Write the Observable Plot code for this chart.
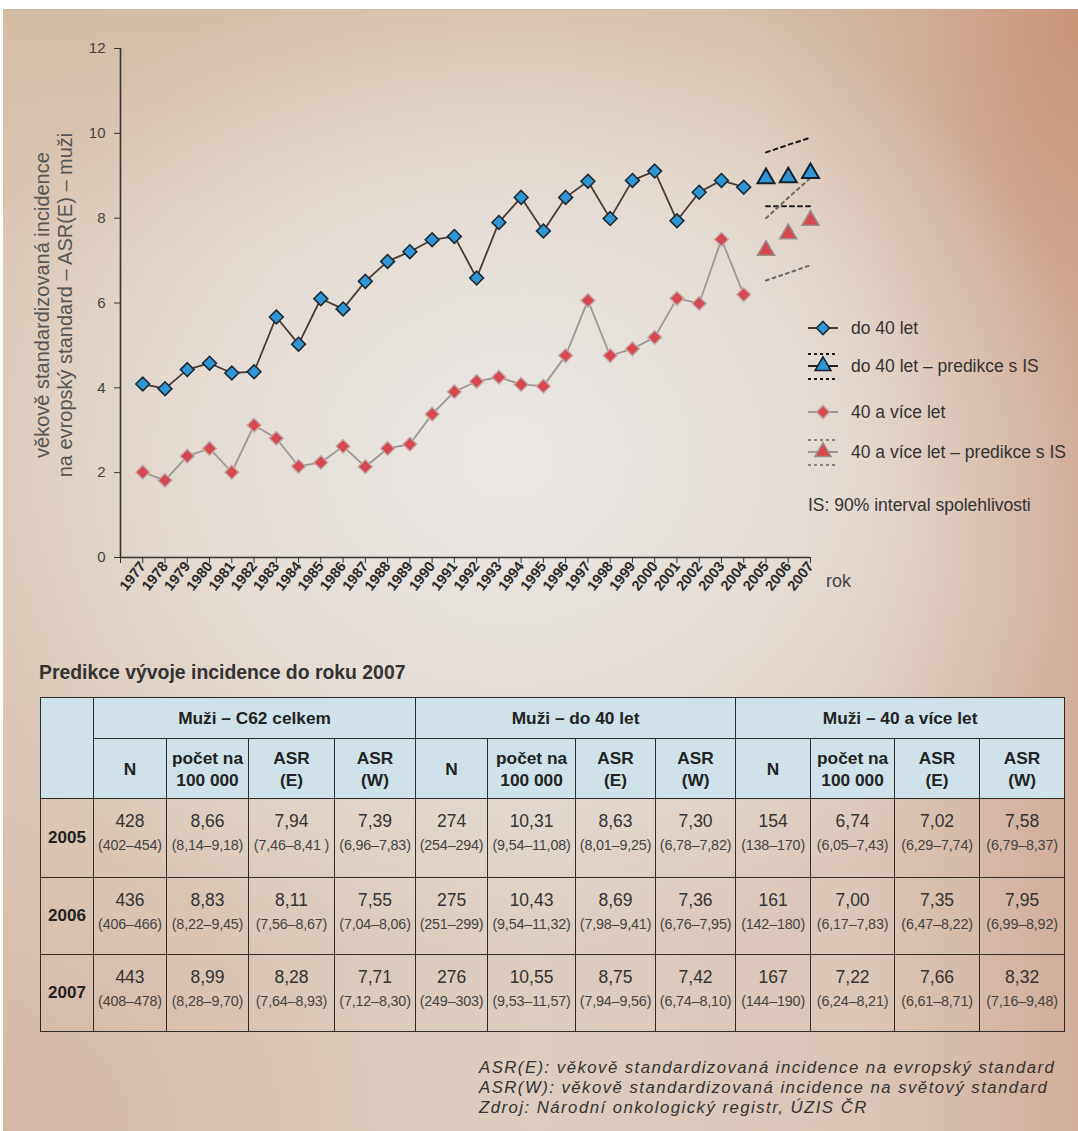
<!DOCTYPE html>
<html lang="cs">
<head>
<meta charset="utf-8">
<script src="https://cdn.jsdelivr.net/npm/d3@7"></script>
<script src="https://cdn.jsdelivr.net/npm/@observablehq/plot@0.6"></script>
<style>
  html, body { margin: 0; padding: 0; background: #fff; }
  #page {
    position: relative;
    width: 1075px; height: 1122px;
    margin: 9px 0 0 3px;
    overflow: hidden;
    font-family: "Liberation Sans", Arial, sans-serif;
    color: #333;
    background:
      radial-gradient(ellipse 55% 45% at 47% 40%, rgba(234,231,228,1) 0%, rgba(232,227,222,0.7) 55%, rgba(232,227,222,0) 100%),
      radial-gradient(ellipse 30% 55% at 100% 0%, rgba(200,146,118,0.95) 0%, rgba(205,160,135,0.5) 50%, rgba(205,160,135,0) 100%),
      linear-gradient(to bottom, rgba(212,188,162,0.9) 0%, rgba(212,188,162,0) 22%),
      radial-gradient(ellipse 35% 30% at 0% 100%, rgba(214,178,160,0.8) 0%, rgba(214,178,160,0) 100%),
      linear-gradient(to right, #dac6b3 0%, #dccdc0 50%, #dbc6b7 80%, #d3ad98 100%);
  }
  #chart { position: absolute; left: 0; top: 0; }
  #chart svg { overflow: visible; }
  .ylab {
    position: absolute; left: 51px; top: 296px;
    transform: translate(-50%, -50%) rotate(-90deg);
    white-space: nowrap; text-align: center;
    font-size: 20px; line-height: 23px; color: #555;
  }
  .rok { position: absolute; left: 823px; top: 562px; font-size: 18px; color: #444; }
  #legend { position: absolute; left: 800px; top: 299px; }
  .ttl { position: absolute; left: 36px; top: 652px; font-size: 19.4px; font-weight: bold; color: #333; }
  table.pred {
    position: absolute; left: 37px; top: 688px;
    border-collapse: collapse; table-layout: fixed;
    font-family: "Liberation Sans", Arial, sans-serif;
  }
  table.pred td, table.pred th { border: 1.6px solid #2e2a28; padding: 0; text-align: center; }
  table.pred th { background: #cfe2ea; font-weight: bold; font-size: 17.3px; color: #222; line-height: 22px; }
  table.pred td { color: #333; vertical-align: top; }
  table.pred td.yr { font-weight: bold; font-size: 17px; vertical-align: middle; color: #222; }
  .val { font-size: 17.5px; margin-top: 12px; line-height: 20px; }
  .rng { font-size: 14.3px; margin-top: 6px; color: #444; white-space: nowrap; letter-spacing: -0.15px; }
  .notes { position: absolute; left: 476px; top: 1049px; font-size: 16.8px; letter-spacing: 1.45px; font-style: italic; color: #333; white-space: nowrap; }
  .notes div { height: 20px; line-height: 20px; }
</style>
</head>
<body>
<div id="page">
  <div id="chart"></div>
  <div class="ylab">věkově standardizovaná incidence<br>na evropský standard – ASR(E) – muži</div>
  <div class="rok">rok</div>
  <div id="legend"></div>
  <div class="ttl">Predikce vývoje incidence do roku 2007</div>
  <table class="pred" id="tbl"></table>
  <div class="notes">
    <div>ASR(E): věkově standardizovaná incidence na evropský standard</div>
    <div>ASR(W): věkově standardizovaná incidence na světový standard</div>
    <div>Zdroj: Národní onkologický registr, ÚZIS ČR</div>
  </div>
</div>
<script>
// Observed years and age-standardised incidence (ASR(E), men)
const years = [1977, 1978, 1979, 1980, 1981, 1982, 1983, 1984, 1985, 1986, 1987, 1988, 1989, 1990,
               1991, 1992, 1993, 1994, 1995, 1996, 1997, 1998, 1999, 2000, 2001, 2002, 2003, 2004];
const under40 = [4.09, 3.98, 4.43, 4.58, 4.35, 4.38, 5.67, 5.03, 6.10, 5.86, 6.51, 6.98, 7.21, 7.49,
                 7.57, 6.59, 7.90, 8.49, 7.70, 8.49, 8.87, 7.99, 8.89, 9.11, 7.94, 8.61, 8.89, 8.73];
const over40 = [2.01, 1.82, 2.39, 2.57, 2.01, 3.12, 2.81, 2.15, 2.24, 2.62, 2.14, 2.57, 2.67, 3.38,
                3.91, 4.15, 4.25, 4.08, 4.04, 4.76, 6.06, 4.76, 4.92, 5.19, 6.11, 5.99, 7.50, 6.20];

// Predictions with 90% interval
const predYears = [2005, 2006, 2007];
const under40Pred = [8.94, 8.96, 9.06];
const under40Low = [8.28, 8.28, 8.28];
const under40High = [9.55, 9.73, 9.90];
const over40Pred = [7.24, 7.63, 7.95];
const over40Low = [6.53, 6.71, 6.89];
const over40High = [8.00, 8.48, 8.95];

// Axis ticks
const yTicks = [0, 2, 4, 6, 8, 10, 12];
const xTicks = [1976, 1977, 1978, 1979, 1980, 1981, 1982, 1983, 1984, 1985, 1986, 1987, 1988, 1989, 1990, 1991,
                1992, 1993, 1994, 1995, 1996, 1997, 1998, 1999, 2000, 2001, 2002, 2003, 2004, 2005, 2006, 2007];

// Prediction table
const tableYears = ["2005", "2006", "2007"];
const groupNames = ["Muži – C62 celkem", "Muži – do 40 let", "Muži – 40 a více let"];
const columnNames = ["N", "počet na\n100 000", "ASR\n(E)", "ASR\n(W)"];
const c62Values = [["428", "8,66", "7,94", "7,39"], ["436", "8,83", "8,11", "7,55"], ["443", "8,99", "8,28", "7,71"]];
const c62Ranges = [["(402–454)", "(8,14–9,18)", "(7,46–8,41 )", "(6,96–7,83)"],
                   ["(406–466)", "(8,22–9,45)", "(7,56–8,67)", "(7,04–8,06)"],
                   ["(408–478)", "(8,28–9,70)", "(7,64–8,93)", "(7,12–8,30)"]];
const under40Values = [["274", "10,31", "8,63", "7,30"], ["275", "10,43", "8,69", "7,36"], ["276", "10,55", "8,75", "7,42"]];
const under40Ranges = [["(254–294)", "(9,54–11,08)", "(8,01–9,25)", "(6,78–7,82)"],
                       ["(251–299)", "(9,54–11,32)", "(7,98–9,41)", "(6,76–7,95)"],
                       ["(249–303)", "(9,53–11,57)", "(7,94–9,56)", "(6,74–8,10)"]];
const over40Values = [["154", "6,74", "7,02", "7,58"], ["161", "7,00", "7,35", "7,95"], ["167", "7,22", "7,66", "8,32"]];
const over40Ranges = [["(138–170)", "(6,05–7,43)", "(6,29–7,74)", "(6,79–8,37)"],
                      ["(142–180)", "(6,17–7,83)", "(6,47–8,22)", "(6,99–8,92)"],
                      ["(144–190)", "(6,24–8,21)", "(6,61–8,71)", "(7,16–9,48)"]];

const blue = "#2f97d6", red = "#d8474f";

const obs = years.map((year, i) => ({year, u40: under40[i], o40: over40[i]}));
const pred = predYears.map((year, i) => ({
  year, u40: under40Pred[i], u40lo: under40Low[i], u40hi: under40High[i],
  o40: over40Pred[i], o40lo: over40Low[i], o40hi: over40High[i]
}));

const chart = Plot.plot({
  width: 1075,
  height: 610,
  marginLeft: 117,
  marginRight: 268,
  marginTop: 39,
  marginBottom: 62,
  style: {background: "transparent", fontFamily: "Liberation Sans, Arial, sans-serif", fontSize: "13px", color: "#2b2b2b"},
  x: {domain: [1976, 2007]},
  y: {domain: [0, 12]},
  marks: [
    Plot.ruleX([1976], {stroke: "#333", strokeWidth: 1.6}),
    Plot.ruleY([0], {stroke: "#333", strokeWidth: 1.6}),
    Plot.axisY({ticks: yTicks, tickSize: 6, tickPadding: 9, label: null, fontSize: 15, fill: "#444", stroke: "#333"}),
    Plot.axisX({ticks: xTicks, tickSize: 6, tickPadding: 0, tickRotate: -52, label: null,
                fontWeight: "bold", fontSize: 14.5, fill: "#2a2a2a", stroke: "#333",
                tickFormat: d => d === 1976 ? "" : String(d)}),
    // prediction intervals
    Plot.line(pred, {x: "year", y: "u40hi", stroke: "#1a1a1a", strokeWidth: 2, strokeDasharray: "4,4"}),
    Plot.line(pred, {x: "year", y: "u40lo", stroke: "#1a1a1a", strokeWidth: 2, strokeDasharray: "4,4"}),
    Plot.line(pred, {x: "year", y: "o40hi", stroke: "#6e6864", strokeWidth: 2, strokeDasharray: "3,4"}),
    Plot.line(pred, {x: "year", y: "o40lo", stroke: "#6e6864", strokeWidth: 2, strokeDasharray: "3,4"}),
    // 40+ series
    Plot.line(obs, {x: "year", y: "o40", stroke: "#9d9896", strokeWidth: 1.8}),
    Plot.dot(obs, {x: "year", y: "o40", symbol: "diamond2", r: 6.2, fill: red, stroke: "#bfa9a6", strokeWidth: 1.4}),
    Plot.dot(pred, {x: "year", y: "o40", symbol: "triangle", r: 6.3, fill: red, stroke: "#9c8c86", strokeWidth: 1.6}),
    // under 40 series
    Plot.line(obs, {x: "year", y: "u40", stroke: "#4a3a31", strokeWidth: 1.8}),
    Plot.dot(obs, {x: "year", y: "u40", symbol: "diamond2", r: 6.2, fill: blue, stroke: "#1d2a33", strokeWidth: 1.6}),
    Plot.dot(pred, {x: "year", y: "u40", symbol: "triangle", r: 6.3, fill: blue, stroke: "#15202a", strokeWidth: 2})
  ]
});
document.getElementById("chart").append(chart);

// Legend
(function () {
  const items = [
    {label: "do 40 let", y: 20, fill: blue, stroke: "#1d2a33", line: "#4a3a31", symbol: d3.symbolDiamond2, size: 110, band: null},
    {label: "do 40 let – predikce s IS", y: 58, fill: blue, stroke: "#15202a", line: "#222", symbol: d3.symbolTriangle, size: 110, band: "#1a1a1a"},
    {label: "40 a více let", y: 104, fill: red, stroke: "#bfa9a6", line: "#9d9896", symbol: d3.symbolDiamond2, size: 110, band: null},
    {label: "40 a více let – predikce s IS", y: 144, fill: red, stroke: "#9c8c86", line: "#9d9896", symbol: d3.symbolTriangle, size: 110, band: "#8a8480"}
  ];
  const svg = d3.select("#legend").append("svg").attr("width", 275).attr("height", 215)
    .style("font-family", "Liberation Sans, Arial, sans-serif").style("overflow", "visible");
  for (const it of items) {
    const g = svg.append("g").attr("transform", `translate(0,${it.y})`);
    if (it.band) {
      for (const dy of [-12, 13]) {
        g.append("line").attr("x1", 5).attr("x2", 35).attr("y1", dy).attr("y2", dy)
          .attr("stroke", it.band).attr("stroke-width", 1.8).attr("stroke-dasharray", "3,3");
      }
    }
    g.append("line").attr("x1", 5).attr("x2", 35).attr("stroke", it.line).attr("stroke-width", 2);
    g.append("path").attr("transform", "translate(20,0)").attr("d", d3.symbol(it.symbol, it.size)())
      .attr("fill", it.fill).attr("stroke", it.stroke).attr("stroke-width", 1.5);
    g.append("text").attr("x", 48).attr("dy", "0.35em").attr("font-size", 17.5).attr("fill", "#333").text(it.label);
  }
  svg.append("text").attr("x", 5).attr("y", 197).attr("dy", "0.35em").attr("font-size", 17.5).attr("fill", "#333")
    .text("IS: 90% interval spolehlivosti");
})();

// Prediction table
(function () {
  const widths = [53, 73, 82, 86, 81, 72, 88, 80, 80, 75, 84, 85, 85];
  const groups = [[c62Values, c62Ranges], [under40Values, under40Ranges], [over40Values, over40Ranges]];
  const tbl = d3.select("#tbl");
  tbl.style("width", d3.sum(widths) + "px");
  const cg = tbl.append("colgroup");
  widths.forEach(w => cg.append("col").style("width", w + "px"));
  const r1 = tbl.append("tr").style("height", "41px");
  r1.append("th").attr("rowspan", 2);
  groupNames.forEach(n => r1.append("th").attr("colspan", 4).text(n));
  const r2 = tbl.append("tr").style("height", "60px");
  groupNames.forEach(() => columnNames.forEach(c => r2.append("th").style("white-space", "pre-line").text(c)));
  const rowHeights = [79, 77, 77];
  tableYears.forEach((yr, i) => {
    const tr = tbl.append("tr").style("height", rowHeights[i] + "px");
    tr.append("td").attr("class", "yr").text(yr);
    groups.forEach(([vals, rngs]) => {
      vals[i].forEach((v, j) => {
        const td = tr.append("td");
        td.append("div").attr("class", "val").text(v);
        td.append("div").attr("class", "rng").text(rngs[i][j]);
      });
    });
  });
})();
</script>
</body>
</html>
